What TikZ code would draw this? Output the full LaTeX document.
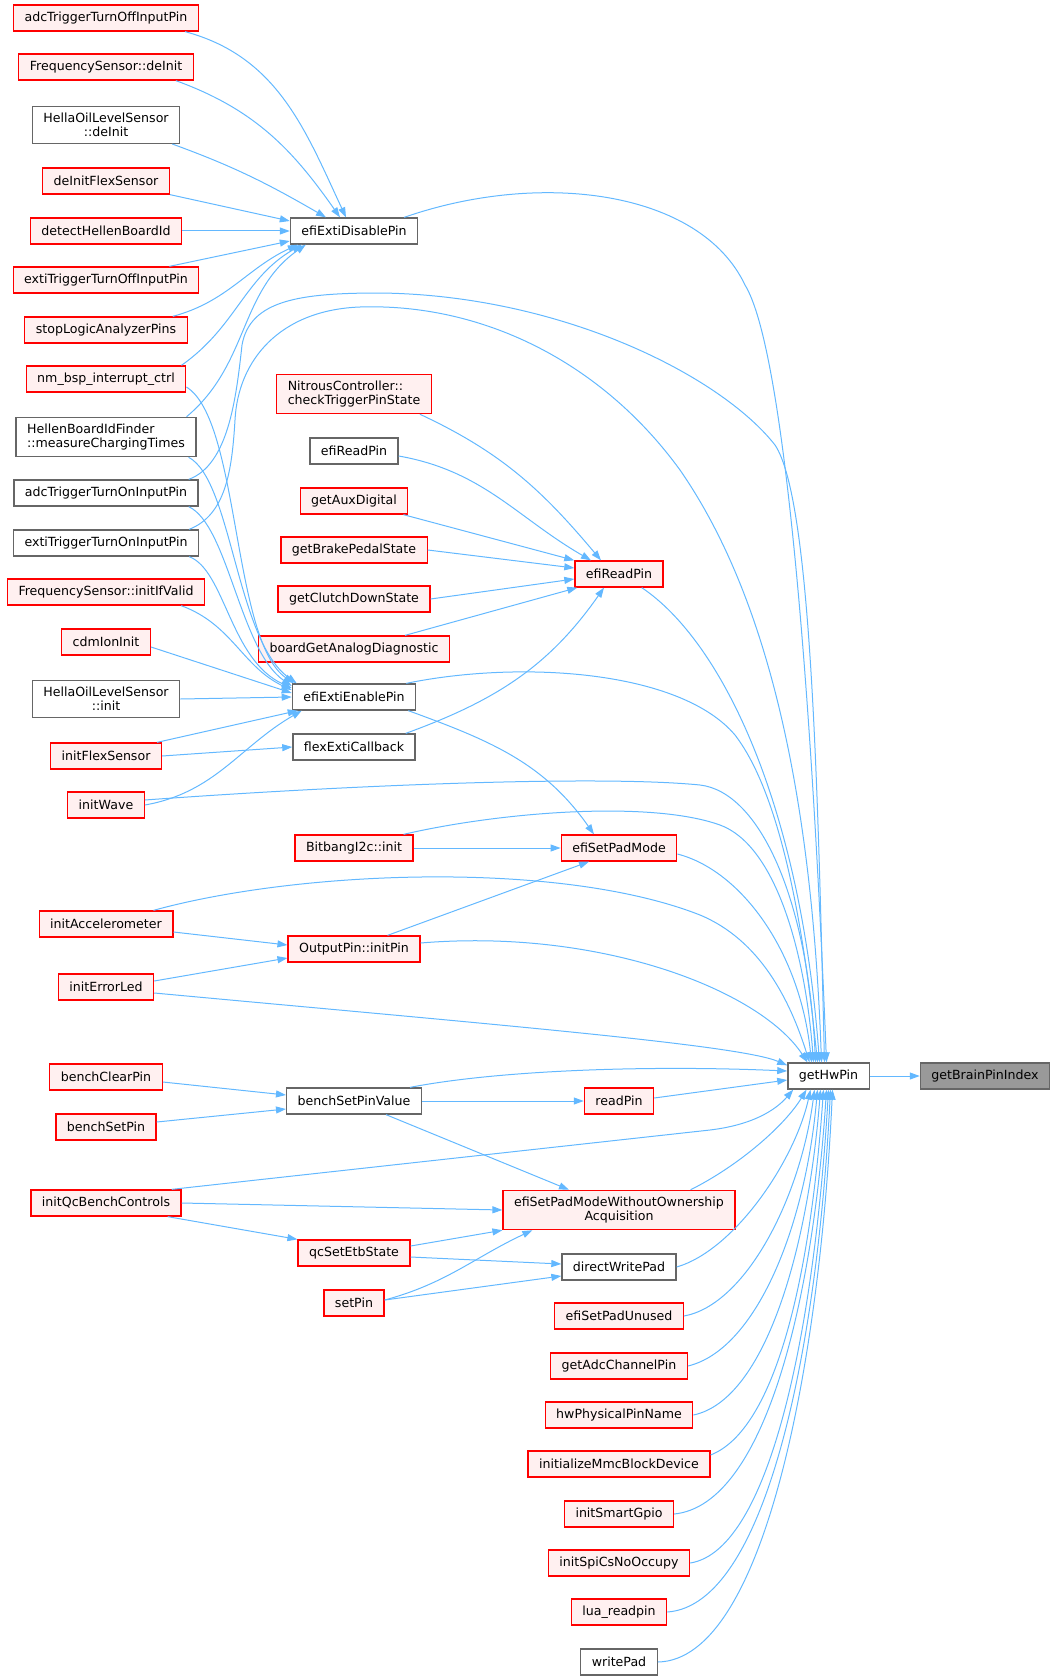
\documentclass[tikz,border=0pt]{standalone}
\usepackage{fontspec}
\setmainfont{DejaVu Sans}
\usepackage{tikz}
\usetikzlibrary{arrows,arrows.meta}
\definecolor{node_gray}{RGB}{102,102,102}
\definecolor{node_dark}{RGB}{153,153,153}
\definecolor{node_red}{RGB}{255,240,240}
\definecolor{edge_red}{RGB}{255,0,0}
\definecolor{edge_blue}{RGB}{99,184,255}

\begin{document}
\begin{tikzpicture}[x=1pt,y=1pt,->,edge_blue,line width=1pt,>={Triangle[length=10pt,width=7pt]}]
    \tikzstyle{fn}=[draw=node_gray, rectangle, line width=1.3pt, minimum height=26pt, inner xsep=11pt, inner ysep=6.5pt, fill=white, text=black, font=\fontsize{12.6}{14}\selectfont]
    \tikzstyle{rd}=[style=fn, fill=node_red, draw=edge_red]
    \tikzstyle{gr}=[style=fn]
    \tikzstyle{hl}=[style=fn, fill=node_dark]
    \useasboundingbox (0,0) rectangle (1057,-1680);

    % callers
    \node[rd] (a1)  at (106,-18)   {adcTriggerTurnOffInputPin};
    \node[rd] (a2)  at (106,-67)   {FrequencySensor::deInit};
    \node[gr, align=center] (a3) at (106,-125) {HellaOilLevelSensor\\::deInit};
    \node[rd] (a4)  at (106,-181)  {deInitFlexSensor};
    \node[rd] (a5)  at (106,-231)  {detectHellenBoardId};
    \node[rd] (a6)  at (106,-280)  {extiTriggerTurnOffInputPin};
    \node[rd] (a7)  at (106,-330)  {stopLogicAnalyzerPins};
    \node[rd] (a8)  at (106,-379)  {nm\_bsp\_interrupt\_ctrl};
    \node[gr, align=left] (a9) at (106,-437) {HellenBoardIdFinder\\::measureChargingTimes};
    \node[gr] (a10) at (106,-493)  {adcTriggerTurnOnInputPin};
    \node[gr] (a11) at (106,-543)  {extiTriggerTurnOnInputPin};
    \node[rd] (a12) at (106,-592)  {FrequencySensor::initIfValid};
    \node[rd] (a13) at (106,-642)  {cdmIonInit};
    \node[gr, align=center] (a14) at (106,-699) {HellaOilLevelSensor\\::init};
    \node[rd] (a15) at (106,-756)  {initFlexSensor};
    \node[rd] (a16) at (106,-805)  {initWave};
    \node[rd] (a17) at (106,-924)  {initAccelerometer};
    \node[rd] (a18) at (106,-987)  {initErrorLed};
    \node[rd] (a19) at (106,-1077) {benchClearPin};
    \node[rd] (a20) at (106,-1127) {benchSetPin};
    \node[rd] (a21) at (106,-1203) {initQcBenchControls};

    \node[gr] (dis) at (354,-231)  {efiExtiDisablePin};
    \node[rd, align=left] (nit) at (354,-394) {NitrousController::\\checkTriggerPinState};
    \node[gr] (erg) at (354,-451)  {efiReadPin};
    \node[rd] (aux) at (354,-501)  {getAuxDigital};
    \node[rd] (brk) at (354,-550)  {getBrakePedalState};
    \node[rd] (clt) at (354,-599)  {getClutchDownState};
    \node[rd] (bga) at (354,-649)  {boardGetAnalogDiagnostic};
    \node[gr] (ena) at (354,-697)  {efiExtiEnablePin};
    \node[gr] (fxc) at (354,-747)  {flexExtiCallback};
    \node[rd] (bbi) at (354,-848)  {BitbangI2c::init};
    \node[rd] (opi) at (354,-949)  {OutputPin::initPin};
    \node[gr] (bsv) at (354,-1101) {benchSetPinValue};
    \node[rd] (qce) at (354,-1253) {qcSetEtbState};
    \node[rd] (spn) at (354,-1303) {setPin};

    \node[rd] (erp) at (619,-574)  {efiReadPin};
    \node[rd] (spm) at (619,-848)  {efiSetPadMode};
    \node[rd] (rdp) at (619,-1101) {readPin};
    \node[rd, align=center] (woa) at (619,-1210) {efiSetPadModeWithoutOwnership\\Acquisition};
    \node[gr] (dwp) at (619,-1267) {directWritePad};
    \node[rd] (unu) at (619,-1316) {efiSetPadUnused};
    \node[rd] (acp) at (619,-1366) {getAdcChannelPin};
    \node[rd] (hwp) at (619,-1415) {hwPhysicalPinName};
    \node[rd] (mmc) at (619,-1464) {initializeMmcBlockDevice};
    \node[rd] (sgp) at (619,-1514) {initSmartGpio};
    \node[rd] (spi) at (619,-1563) {initSpiCsNoOccupy};
    \node[rd] (lua) at (619,-1612) {lua\_readpin};
    \node[gr] (wrp) at (619,-1662) {writePad};

    \node[gr] (hw)  at (828.5,-1076) {getHwPin};
    \node[hl] (bpi) at (985,-1076)   {getBrainPinIndex};

    \path
     ([xshift=-14pt]a1.south east) edge[out=-15,in=115] ([xshift=-8pt]dis.north)
     ([xshift=-18pt]a2.south east) edge[out=-20,in=125] ([xshift=-14pt]dis.north)
     ([xshift=-8pt]a3.south east)  edge[out=-20,in=150] ([xshift=-28pt]dis.north)
     (a4.south east) edge ([yshift=10pt]dis.west)
     (a5.east) edge (dis.west)
     ([xshift=-30pt]a6.north east) edge ([yshift=-10pt]dis.west)
     ([xshift=-15pt]a7.north east) edge[out=15,in=205] ([xshift=8pt]dis.south west)
     ([xshift=-5pt]a8.north east)  edge[out=35,in=210] ([xshift=12pt]dis.south west)
     ([xshift=-10pt]a9.north east) edge[out=40,in=215] ([xshift=16pt]dis.south west)
     ([xshift=-24pt]a12.south east) edge[out=-20,in=155] ([yshift=7pt]ena.west)
     ([yshift=-5pt]a13.east) edge ([yshift=4pt]ena.west)
     (a14.east) edge (ena.west)
     ([xshift=-5pt]a15.north east) edge ([xshift=6pt]ena.south west)
     (a15.east) edge (fxc.west)
     (a16.east) edge[out=10,in=210] ([xshift=10pt]ena.south west)
     ([xshift=-12pt]nit.south east) edge[out=-25,in=130] ([xshift=-18pt]erp.north)
     ([yshift=-5pt]erg.east) edge[out=-10,in=150] ([xshift=-28pt]erp.north)
     ([xshift=-5pt]aux.south east) edge[out=-15,in=165] (erp.north west)
     (brk.east) edge ([yshift=6pt]erp.west)
     (clt.east) edge ([yshift=-5pt]erp.west)
     ([xshift=-45pt]bga.north east) edge ([xshift=3pt]erp.south west)
     ([xshift=-10pt]fxc.north east) edge[out=20,in=-125] ([xshift=-15pt]erp.south)
     ([xshift=-8pt]ena.south east) edge[out=-20,in=125] ([xshift=-25pt]spm.north)
     (bbi.east) edge (spm.west)
     ([xshift=-33pt]opi.north east) edge ([xshift=-30pt]spm.south)
     ([yshift=-8pt]a17.east) edge ([yshift=4pt]opi.west)
     ([yshift=6pt]a18.east) edge ([yshift=-9pt]opi.west)
     ([yshift=-5pt]a19.east) edge ([yshift=6pt]bsv.west)
     ([yshift=5pt]a20.east) edge ([yshift=-8pt]bsv.west)
     (bsv.east) edge (rdp.west)
     ([xshift=32pt]bsv.south) edge ([xshift=-50pt]woa.north)
     (a21.east) edge (woa.west)
     ([xshift=-14pt]a21.south east) edge (qce.north west)
     ([yshift=7pt]qce.east) edge (woa.south west)
     ([yshift=-4pt]qce.east) edge ([yshift=3pt]dwp.west)
     ([yshift=3pt]spn.east) edge ([yshift=-9pt]dwp.west)
     ([yshift=3pt]spn.east) edge[out=15,in=-155] ([xshift=30pt]woa.south west)
     ([yshift=3pt]rdp.east) edge ([yshift=-4pt]hw.west)
     (hw.east) edge (bpi.west)
     ;

    % long way down to efiExtiEnablePin
    \draw ([yshift=-8pt]a8.east) .. controls (240,-420) and (232,-640) .. ([xshift=2pt]ena.north west);
    \draw ([xshift=-8pt]a9.south east) .. controls (232,-480) and (236,-640) .. ([xshift=5pt]ena.north west);
    \draw ([xshift=-10pt]a10.south east) .. controls (228,-525) and (240,-650) .. ([yshift=11pt]ena.west);
    \draw ([xshift=-10pt]a11.south east) .. controls (225,-570) and (230,-660) .. ([yshift=9pt]ena.west);

    % into getHwPin from above
    \draw ([xshift=-14pt]dis.north east) .. controls (540,-170) and (700,-190) .. (745,-285)
          .. controls (785,-350) and (812,-700) .. ([xshift=-2pt]hw.north);
    \draw ([xshift=-10pt]a10.north east) .. controls (228,-465) and (236,-400) .. (242,-345)
          .. controls (250,-300) and (300,-293) .. (380,-293)
          .. controls (560,-295) and (720,-375) .. (775,-445)
          .. controls (812,-500) and (818,-800) .. ([xshift=-4pt]hw.north);
    \draw ([xshift=-10pt]a11.north east) .. controls (226,-515) and (232,-470) .. (235,-420)
          .. controls (238,-360) and (280,-310) .. (360,-307)
          .. controls (480,-303) and (600,-360) .. (680,-470)
          .. controls (770,-600) and (812,-800) .. ([xshift=-7pt]hw.north);
    \draw ([xshift=-22pt]erp.south east) .. controls (720,-640) and (800,-800) .. ([xshift=-9pt]hw.north);
    \draw ([xshift=-10pt]ena.north east) .. controls (520,-660) and (680,-670) .. (735,-735)
          .. controls (785,-800) and (806,-950) .. ([xshift=-11pt]hw.north);
    \draw ([yshift=5pt]a16.east) .. controls (350,-785) and (600,-775) .. (700,-785)
          .. controls (760,-792) and (808,-900) .. ([xshift=-13pt]hw.north);
    \draw ([xshift=-10pt]bbi.north east) .. controls (500,-812) and (650,-800) .. (720,-825)
          .. controls (775,-845) and (805,-950) .. ([xshift=-15pt]hw.north);
    \draw ([yshift=-6pt]spm.east) .. controls (740,-870) and (800,-950) .. ([xshift=-17pt]hw.north);
    \draw ([xshift=-20pt]a17.north east) .. controls (300,-870) and (560,-860) .. (700,-915)
          .. controls (760,-940) and (790,-1000) .. ([xshift=-19pt]hw.north);
    \draw ([yshift=6pt]opi.east) .. controls (600,-928) and (760,-990) .. ([xshift=-21pt]hw.north);
    \draw ([yshift=-6pt]a18.east) .. controls (500,-1025) and (740,-1045) .. ([yshift=-3pt]hw.north west);
    \draw ([xshift=-12pt]bsv.north east) .. controls (500,-1070) and (650,-1065) .. ([yshift=5pt]hw.west);
    \draw ([xshift=-10pt]a21.north east) -- (710,-1130) .. controls (760,-1124) and (780,-1105) .. ([xshift=6pt]hw.south west);

    % into getHwPin from below
    \draw ([xshift=-45pt]woa.north east) .. controls (740,-1165) and (785,-1125) .. ([xshift=-22pt]hw.south);
    \draw (dwp.east) .. controls (735,-1250) and (795,-1160) .. ([xshift=-18pt]hw.south);
    \draw (unu.east) .. controls (745,-1305) and (800,-1200) .. ([xshift=-14pt]hw.south);
    \draw (acp.east) .. controls (755,-1350) and (805,-1230) .. ([xshift=-11pt]hw.south);
    \draw (hwp.east) .. controls (765,-1400) and (808,-1250) .. ([xshift=-8pt]hw.south);
    \draw ([yshift=9pt]mmc.east) .. controls (775,-1430) and (810,-1280) .. ([xshift=-5pt]hw.south);
    \draw (sgp.east) .. controls (765,-1505) and (813,-1300) .. ([xshift=-2pt]hw.south);
    \draw (spi.east) .. controls (772,-1550) and (815,-1320) .. (hw.south);
    \draw (lua.east) .. controls (768,-1605) and (818,-1340) .. ([xshift=2pt]hw.south);
    \draw (wrp.east) .. controls (765,-1660) and (820,-1360) .. ([xshift=4pt]hw.south);
\end{tikzpicture}
\end{document}
